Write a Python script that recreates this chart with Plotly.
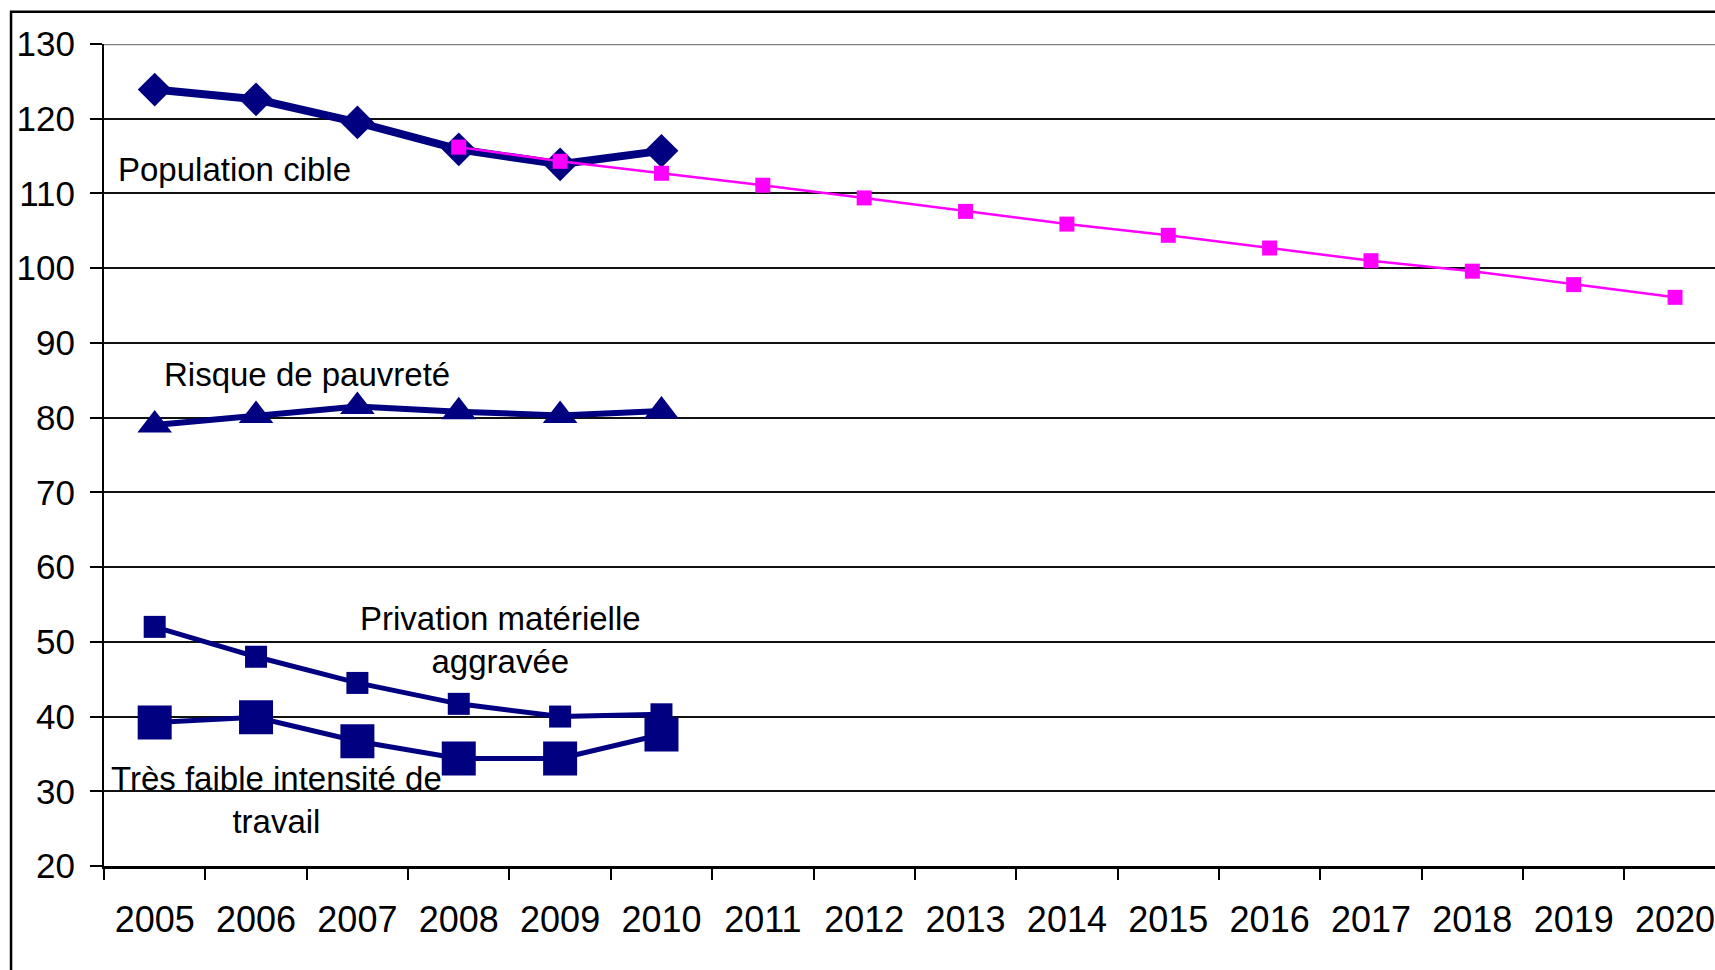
import plotly.graph_objects as go

years = [str(y) for y in range(2005, 2021)]
years_obs = years[:6]
years_target = years[3:]

population_cible = [123.9, 122.6, 119.5, 115.9, 113.9, 115.7]
risque_pauvrete = [79.0, 80.3, 81.5, 80.8, 80.3, 80.9]
privation_materielle = [52.0, 48.0, 44.5, 41.7, 40.0, 40.3]
tres_faible_intensite = [39.2, 39.9, 36.7, 34.4, 34.4, 37.6]
objectif = [116.2, 114.3, 112.7, 111.1, 109.4, 107.6, 105.9, 104.4, 102.7, 101.0, 99.6, 97.8, 96.1]

y_ticks = list(range(20, 131, 10))

NAVY = "#000080"
PINK = "#FF00FF"
FONT = "Liberation Sans, Arial, sans-serif"

fig = go.Figure()
fig.add_trace(go.Scatter(x=years_obs, y=tres_faible_intensite, mode="lines+markers",
                         line=dict(color=NAVY, width=5),
                         marker=dict(symbol="square", size=34, color=NAVY)))
fig.add_trace(go.Scatter(x=years_obs, y=privation_materielle, mode="lines+markers",
                         line=dict(color=NAVY, width=5),
                         marker=dict(symbol="square", size=22, color=NAVY)))
fig.add_trace(go.Scatter(x=years_obs, y=risque_pauvrete, mode="lines+markers",
                         line=dict(color=NAVY, width=6),
                         marker=dict(symbol="triangle-up", size=30, color=NAVY)))
fig.add_trace(go.Scatter(x=years_obs, y=population_cible, mode="lines+markers",
                         line=dict(color=NAVY, width=8),
                         marker=dict(symbol="diamond", size=26, color=NAVY)))
fig.add_trace(go.Scatter(x=years_target, y=objectif, mode="lines+markers",
                         line=dict(color=PINK, width=2.5),
                         marker=dict(symbol="square", size=15, color=PINK)))

annotations = [
    dict(text="Population cible", x=0.792, y=113.25),
    dict(text="Risque de pauvreté", x=1.498, y=85.75),
    dict(text="Privation matérielle<br>aggravée", x=3.407, y=50.2),
    dict(text="Très faible intensité de<br>travail", x=1.197, y=28.8),
]
for a in annotations:
    fig.add_annotation(text=a["text"], x=a["x"], y=a["y"], xref="x", yref="y",
                       showarrow=False, font=dict(family=FONT, size=33, color="black"),
                       align="center", xanchor="center", yanchor="middle")

# grey top gridline
fig.add_shape(type="line", xref="paper", yref="y", x0=0, x1=1, y0=130, y1=130,
              line=dict(color="#808080", width=2.5))
# outer frame (cropped at right and bottom)
fig.add_shape(type="rect", xref="paper", yref="paper", x0=-0.0577, x1=1.1,
              y0=-0.3, y1=1.0393, line=dict(color="black", width=2.5), layer="above")

fig.update_layout(
    width=1715, height=970,
    margin=dict(l=104, r=0, t=44, b=104),
    paper_bgcolor="white", plot_bgcolor="white",
    showlegend=False, hovermode=False,
    font=dict(family=FONT, color="black"),
)
fig.update_xaxes(type="category", categoryorder="array", categoryarray=years,
                 range=[-0.5, 15.394], tickson="boundaries",
                 showgrid=False, showline=True, linecolor="black", linewidth=2.5,
                 ticks="outside", ticklen=11, tickwidth=2, tickcolor="black",
                 tickfont=dict(family=FONT, size=36, color="black"),
                 ticklabelstandoff=20, zeroline=False)
fig.update_yaxes(range=[20, 130], tickvals=y_ticks, ticktext=[str(v) for v in y_ticks],
                 showgrid=True, gridcolor="#111111", gridwidth=2,
                 showline=True, linecolor="black", linewidth=2,
                 ticks="outside", ticklen=12, tickwidth=2, tickcolor="black",
                 tickfont=dict(family=FONT, size=35, color="black"),
                 ticklabelstandoff=8, zeroline=False)

fig.write_html("out.html", config={"displayModeBar": False},
               post_script="document.body.style.margin='0';document.body.style.overflow='hidden';")
